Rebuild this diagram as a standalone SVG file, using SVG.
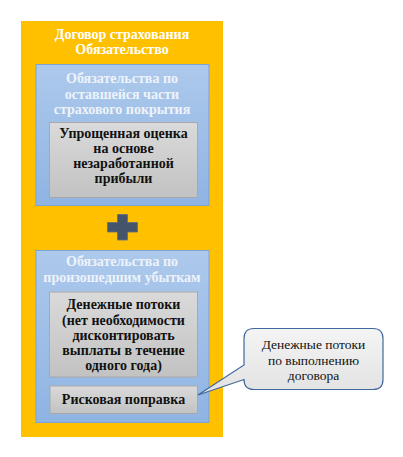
<svg xmlns="http://www.w3.org/2000/svg" width="403" height="457" viewBox="0 0 403 457">
<defs>
<linearGradient id="gBlue" x1="0" y1="0" x2="0" y2="1">
<stop offset="0" stop-color="#adc9ec"/>
<stop offset="1" stop-color="#8fb4e3"/>
</linearGradient>
<linearGradient id="gGray" x1="0" y1="0" x2="0" y2="1">
<stop offset="0" stop-color="#dadada"/>
<stop offset="1" stop-color="#c2c2c2"/>
</linearGradient>
<linearGradient id="gCall" x1="0" y1="0" x2="0" y2="1">
<stop offset="0" stop-color="#f4f4f4"/>
<stop offset="1" stop-color="#e2e2e2"/>
</linearGradient>
<style>
.t{font-family:"Liberation Serif","Times New Roman",serif;font-size:13.5px;text-anchor:middle}
.b{font-weight:bold;font-size:14px}
.w{fill:#ffffff}
.wl{fill:#eef3fa}
.k{fill:#111111}
.blue{fill:url(#gBlue);stroke:#7ea3d3;stroke-width:1}
.gray{fill:url(#gGray);stroke:#a9a9a9;stroke-width:1}
</style>
</defs>
<rect width="403" height="457" fill="#ffffff"/>
<g id="contract">
<rect x="21" y="21" width="202" height="416" fill="#ffc000"/>
<text class="t b w" x="122" y="38.5">Договор страхования</text>
<text class="t b w" x="122" y="54">Обязательство</text>
</g>
<g id="lrc">
<rect class="blue" x="36" y="64.5" width="173" height="141"/>
<text class="t b wl" x="122" y="83">Обязательства по</text>
<text class="t b wl" x="122" y="98.5">оставшейся части</text>
<text class="t b wl" x="122" y="114">страхового покрытия</text>
</g>
<g id="paa">
<rect class="gray" x="49.5" y="122.5" width="148" height="75"/>
<text class="t b k" x="123.5" y="138">Упрощенная оценка</text>
<text class="t b k" x="123.5" y="153">на основе</text>
<text class="t b k" x="123.5" y="167.5">незаработанной</text>
<text class="t b k" x="123.5" y="182.5">прибыли</text>
</g>
<g id="plus">
<path d="M117.5,214.5 H127.5 V222.5 H137.5 V232 H127.5 V240 H117.5 V232 H107.5 V222.5 H117.5 Z" fill="#44546a" stroke="#5b6e8a" stroke-width="0.8"/>
</g>
<g id="lic">
<rect class="blue" x="36" y="250.5" width="173" height="172"/>
<text class="t b wl" x="122" y="266">Обязательства по</text>
<text class="t b wl" x="122" y="281.5">произошедшим убыткам</text>
</g>
<g id="cashflows">
<rect class="gray" x="49.5" y="292" width="148" height="85"/>
<text class="t b k" x="123.5" y="309">Денежные потоки</text>
<text class="t b k" x="123.5" y="324.5">(нет необходимости</text>
<text class="t b k" x="123.5" y="339.5">дисконтировать</text>
<text class="t b k" x="123.5" y="354.5">выплаты в течение</text>
<text class="t b k" x="123.5" y="369.5">одного года)</text>
</g>
<g id="risk">
<rect class="gray" x="50" y="386" width="147.5" height="27.5"/>
<text class="t b k" x="123.5" y="403.5">Рисковая поправка</text>
</g>
<g id="connectors">
<g id="callout">
<path d="M254,328.5 H373 Q383,328.5 383,338.5 V379.5 Q383,389.5 373,389.5 H254 Q244,389.5 244,379.5 V379.5 L198,395 L244,365 V338.5 Q244,328.5 254,328.5 Z" fill="url(#gCall)" stroke="#41689c" stroke-width="1.2"/>
<text class="t k" x="313.5" y="349">Денежные потоки</text>
<text class="t k" x="313.5" y="365">по выполнению</text>
<text class="t k" x="313.5" y="380">договора</text>
</g>
</g>
</svg>
